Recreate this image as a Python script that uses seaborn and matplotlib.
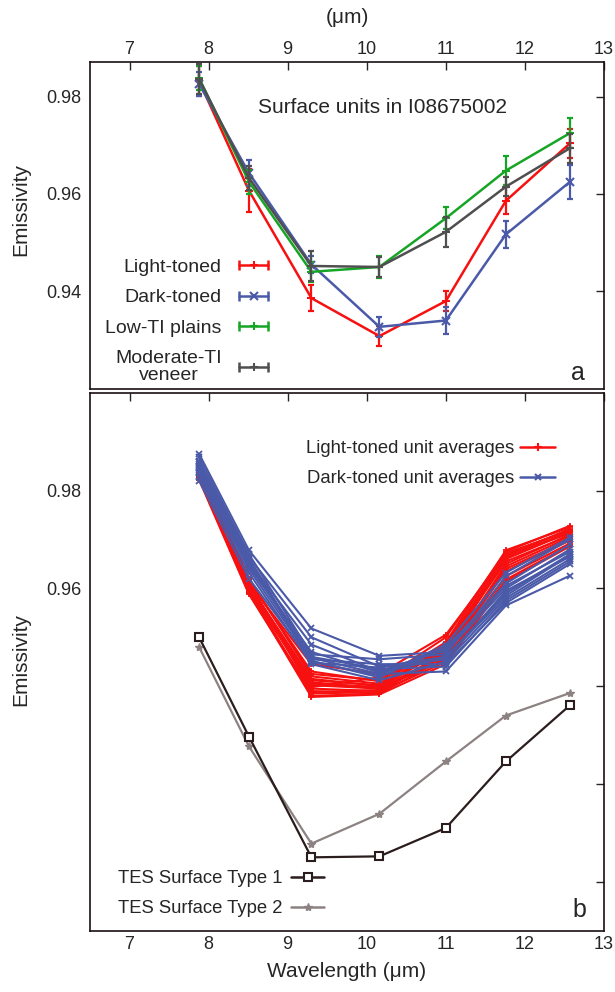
import numpy as np
import pandas as pd
import seaborn as sns
import matplotlib.pyplot as plt
from matplotlib.lines import Line2D
from matplotlib.legend_handler import HandlerLine2D, HandlerTuple

# band centres (um)
wavelength = [7.88, 8.51, 9.30, 10.16, 11.00, 11.76, 12.57]

# panel a: surface unit means and 1-sigma errors
light_mean = [0.9832, 0.9607, 0.9386, 0.9308, 0.9380, 0.9586, 0.9704]
light_err = [0.0030, 0.0045, 0.0027, 0.0020, 0.0020, 0.0028, 0.0030]
dark_mean = [0.9826, 0.9643, 0.9455, 0.9327, 0.9340, 0.9517, 0.9625]
dark_err = [0.0025, 0.0026, 0.0018, 0.0020, 0.0027, 0.0028, 0.0035]
lowti_mean = [0.9838, 0.9625, 0.9440, 0.9450, 0.9550, 0.9648, 0.9725]
lowti_err = [0.0025, 0.0025, 0.0020, 0.0023, 0.0023, 0.0030, 0.0030]
modti_mean = [0.9836, 0.9633, 0.9452, 0.9450, 0.9522, 0.9615, 0.9694]
modti_err = [0.0030, 0.0025, 0.0030, 0.0021, 0.0030, 0.0020, 0.0030]

# panel b: individual unit averages
light_units = [
    [0.9842, 0.9612, 0.9395, 0.9390, 0.9468, 0.9665, 0.9722],
    [0.9835, 0.9605, 0.9405, 0.9398, 0.9475, 0.9672, 0.9718],
    [0.9848, 0.9620, 0.9420, 0.9405, 0.9490, 0.9678, 0.9725],
    [0.9830, 0.9598, 0.9380, 0.9385, 0.9458, 0.9650, 0.9710],
    [0.9838, 0.9608, 0.9412, 0.9402, 0.9482, 0.9660, 0.9715],
    [0.9825, 0.9590, 0.9388, 0.9392, 0.9462, 0.9640, 0.9700],
    [0.9845, 0.9615, 0.9430, 0.9410, 0.9500, 0.9675, 0.9728],
    [0.9832, 0.9602, 0.9398, 0.9418, 0.9470, 0.9645, 0.9705],
    [0.9840, 0.9610, 0.9445, 0.9425, 0.9505, 0.9668, 0.9712],
    [0.9828, 0.9595, 0.9402, 0.9395, 0.9455, 0.9625, 0.9692],
    [0.9836, 0.9606, 0.9415, 0.9400, 0.9478, 0.9655, 0.9708],
    [0.9822, 0.9588, 0.9385, 0.9388, 0.9450, 0.9618, 0.9688],
    [0.9844, 0.9618, 0.9425, 0.9412, 0.9485, 0.9670, 0.9720],
    [0.9834, 0.9600, 0.9408, 0.9396, 0.9465, 0.9635, 0.9698],
    [0.9839, 0.9612, 0.9390, 0.9386, 0.9472, 0.9662, 0.9716],
    [0.9826, 0.9592, 0.9378, 0.9383, 0.9445, 0.9614, 0.9686],
]
dark_units = [
    [0.9875, 0.9678, 0.9518, 0.9462, 0.9470, 0.9600, 0.9680],
    [0.9860, 0.9665, 0.9500, 0.9440, 0.9460, 0.9590, 0.9670],
    [0.9850, 0.9655, 0.9485, 0.9430, 0.9475, 0.9610, 0.9690],
    [0.9868, 0.9670, 0.9465, 0.9455, 0.9465, 0.9625, 0.9700],
    [0.9842, 0.9648, 0.9458, 0.9425, 0.9430, 0.9565, 0.9626],
    [0.9835, 0.9640, 0.9452, 0.9418, 0.9480, 0.9605, 0.9675],
    [0.9855, 0.9660, 0.9448, 0.9438, 0.9455, 0.9595, 0.9665],
    [0.9828, 0.9632, 0.9445, 0.9412, 0.9450, 0.9580, 0.9660],
    [0.9820, 0.9620, 0.9450, 0.9422, 0.9485, 0.9632, 0.9704],
    [0.9846, 0.9652, 0.9460, 0.9435, 0.9440, 0.9575, 0.9655],
    [0.9838, 0.9645, 0.9470, 0.9428, 0.9458, 0.9585, 0.9668],
    [0.9858, 0.9662, 0.9455, 0.9445, 0.9445, 0.9570, 0.9650],
]
tes_type1 = [0.9500, 0.9297, 0.9050, 0.9052, 0.9110, 0.9246, 0.9361]
tes_type2 = [0.9480, 0.9277, 0.9078, 0.9139, 0.9246, 0.9340, 0.9386]

RED = '#f71010'
BLUE = '#4a5aa8'
GREEN = '#17a526'
GRAY = '#4f4f4f'
TES1 = '#2b1d1d'
TES2 = '#8c8282'

sns.set_style("white")
plt.rcParams['font.family'] = ['Liberation Sans', 'DejaVu Sans']
plt.rcParams['font.size'] = 13

fig = plt.figure(figsize=(6.15, 9.92), dpi=100)
ax1 = fig.add_axes([0.1463, 0.6082, 0.8358, 0.3293])
ax2 = fig.add_axes([0.1463, 0.0618, 0.8358, 0.5423])

## panel a
series_a = [
    ("Light-toned", light_mean, light_err, RED, '+'),
    ("Dark-toned", dark_mean, dark_err, BLUE, 'x'),
    ("Low-TI plains", lowti_mean, lowti_err, GREEN, '+'),
    ("Moderate-TI\nveneer", modti_mean, modti_err, GRAY, '+'),
]
handles_a, labels_a, hmap = [], [], {}
for name, m, e, c, mk in series_a:
    df = pd.DataFrame({"wavelength": wavelength, "emissivity": m})
    sns.lineplot(data=df, x="wavelength", y="emissivity", ax=ax1, color=c,
                 marker=mk, markersize=6, mec=c, mew=1.5, lw=1.8,
                 estimator=None, sort=False, legend=False)
    ax1.errorbar(wavelength, m, yerr=e, fmt='none', ecolor=c, elinewidth=1.6,
                 capsize=2.5, capthick=1.6)
    caps = Line2D([], [], color=c, lw=1.8, marker='|', markersize=7, mew=1.8)
    mid = Line2D([], [], color=c, lw=0, marker=mk, markersize=6, mew=1.5)
    hmap[caps] = HandlerLine2D(numpoints=2)
    hmap[mid] = HandlerLine2D(numpoints=1)
    handles_a.append((caps, mid))
    labels_a.append(name)
hmap[tuple] = HandlerTuple(ndivide=1)

leg = ax1.legend(handles_a, labels_a, handler_map=hmap, loc='upper left',
                 bbox_to_anchor=(0.03, 0.4), frameon=False, markerfirst=False,
                 handlelength=2.1, handletextpad=0.6, labelspacing=0.68,
                 borderaxespad=0, borderpad=0, fontsize=14)
leg.get_texts()[-1].set_multialignment('center')
leg.get_texts()[-1].set_linespacing(0.95)

ax1.text(0.57, 0.862, "Surface units in I08675002", transform=ax1.transAxes,
         ha='center', va='center', fontsize=15)
ax1.text(0.949, 0.048, "a", transform=ax1.transAxes, ha='center', va='center',
         fontsize=18)

ax1.set_xlim(6.5, 13)
ax1.set_ylim(0.92, 0.9871)
ax1.set_xticks(range(7, 14))
ax1.set_yticks([0.94, 0.96, 0.98])
ax1.set_yticklabels(['0.94', '0.96', '0.98'])
ax1.xaxis.set_label_position('top')
ax1.set_xlabel("(\u03bcm)", labelpad=13, fontsize=15)
ax1.set_ylabel("Emissivity", fontsize=15)
ax1.yaxis.set_label_coords(-0.117, 0.547)
ax1.tick_params(axis='both', direction='in', length=6, width=1, top=True,
                right=True, labeltop=True, labelbottom=False, labelsize=13,
                pad=6)
ax1.tick_params(axis='x', pad=3)

## panel b
rows = []
for i, u in enumerate(light_units):
    for w, v in zip(wavelength, u):
        rows.append(("light", i, w, v))
for i, u in enumerate(dark_units):
    for w, v in zip(wavelength, u):
        rows.append(("dark", i, w, v))
units_df = pd.DataFrame(rows, columns=["group", "unit", "wavelength", "emissivity"])

for grp, c, mk in [("light", RED, '+'), ("dark", BLUE, 'x')]:
    sns.lineplot(data=units_df[units_df["group"] == grp], x="wavelength",
                 y="emissivity", units="unit", estimator=None, sort=False,
                 ax=ax2, color=c, marker=mk, markersize=5, mec=c, mew=1.3,
                 lw=1.5, legend=False)

tes_df = pd.DataFrame({"wavelength": wavelength, "t1": tes_type1, "t2": tes_type2})
sns.lineplot(data=tes_df, x="wavelength", y="t2", ax=ax2, color=TES2, marker='*',
             markersize=6, mec=TES2, mew=1, lw=1.6, estimator=None, legend=False)
sns.lineplot(data=tes_df, x="wavelength", y="t1", ax=ax2, color=TES1, marker='s',
             markersize=6, mfc='white', mec=TES1, mew=1.5, lw=1.6,
             estimator=None, legend=False)

h_units = [Line2D([], [], color=RED, lw=1.8, marker='+', markersize=6, mew=1.5),
           Line2D([], [], color=BLUE, lw=1.8, marker='x', markersize=5, mew=1.5)]
leg_units = ax2.legend(h_units, ["Light-toned unit averages", "Dark-toned unit averages"],
                       loc='upper right', bbox_to_anchor=(0.905, 0.912),
                       frameon=False, markerfirst=False, handlelength=1.9,
                       handletextpad=0.3, labelspacing=0.7, borderaxespad=0,
                       borderpad=0, numpoints=1, fontsize=13.3)
ax2.add_artist(leg_units)

h_tes = [Line2D([], [], color=TES1, lw=1.8, marker='s', markersize=6, mfc='white',
                mew=1.5),
         Line2D([], [], color=TES2, lw=1.8, marker='*', markersize=6, mew=1)]
ax2.legend(h_tes, ["TES Surface Type 1", "TES Surface Type 2"], loc='lower left',
           bbox_to_anchor=(0.054, 0.025), frameon=False, markerfirst=False,
           handlelength=1.75, handletextpad=0.5, labelspacing=0.7,
           borderaxespad=0, borderpad=0, numpoints=1, fontsize=13.3)

ax2.text(0.9525, 0.039, "b", transform=ax2.transAxes, ha='center', va='center',
         fontsize=18)

ax2.set_xlim(6.5, 13)
ax2.set_ylim(0.89, 1.0)
ax2.set_xticks(range(7, 14))
ax2.set_yticks([0.90, 0.92, 0.94, 0.96, 0.98])
ax2.set_yticklabels(['', '', '', '0.96', '0.98'])
ax2.set_xlabel("Wavelength (\u03bcm)", labelpad=6.5, fontsize=15)
ax2.set_ylabel("Emissivity", fontsize=15)
ax2.yaxis.set_label_coords(-0.117, 0.504)
ax2.tick_params(axis='both', direction='in', length=6, width=1, top=True,
                right=True, labelsize=13, pad=6)
ax2.tick_params(axis='x', pad=4)

for ax in (ax1, ax2):
    for s in ax.spines.values():
        s.set_linewidth(1.2)
        s.set_color('#1a1010')

fig.savefig("out.png", dpi=100)
